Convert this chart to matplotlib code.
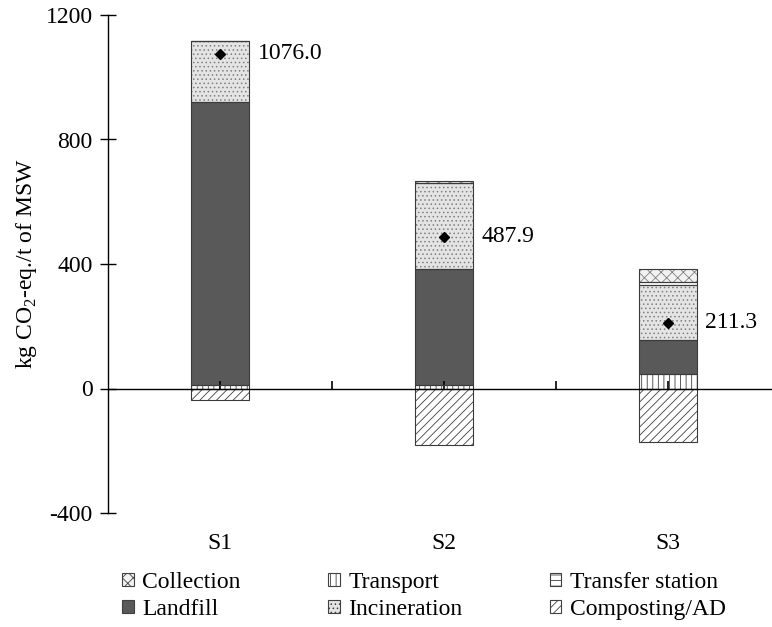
import matplotlib
matplotlib.use("Agg")
import matplotlib.pyplot as plt
from matplotlib.patches import Patch

# values (kg CO2-eq./t of MSW)
scenarios = ["S1", "S2", "S3"]
collection = [0, 8, 42]
transport = [12, 10, 45]
transfer = [0, 0, 9]
landfill = [907, 374, 110]
incineration = [197, 275, 178]
composting = [-38, -180, -173]
net = [1076.0, 487.9, 211.3]

plt.rcParams["font.family"] = ["Liberation Serif", "DejaVu Serif"]
plt.rcParams["hatch.linewidth"] = 0.6
plt.rcParams["mathtext.fontset"] = "custom"
plt.rcParams["mathtext.rm"] = "Liberation Serif"
plt.rcParams["axes.unicode_minus"] = False

fig = plt.figure(figsize=(7.72, 6.27), dpi=100)
ax = fig.add_axes([108 / 772, 114 / 627, 663 / 772, 498 / 627])

x = list(range(len(scenarios)))
w = 0.255
edge = "#3a3a3a"

styles = {
    "Collection": dict(facecolor="#f2f2f2", hatch="xxx", edgecolor="#808080"),
    "Transport": dict(facecolor="white", hatch="|||", edgecolor="#404040"),
    "Transfer station": dict(facecolor="white", hatch="---", edgecolor="#404040"),
    "Landfill": dict(facecolor="#595959", hatch=None, edgecolor=edge),
    "Incineration": dict(facecolor="#e4e4e4", hatch="....", edgecolor="#808080"),
    "Composting/AD": dict(facecolor="white", hatch="////", edgecolor="#404040"),
}

# positive stack, bottom to top as drawn in the figure
stack = [("Transport", transport), ("Landfill", landfill),
         ("Incineration", incineration), ("Transfer station", transfer),
         ("Collection", collection)]
bottom = [0.0] * len(x)
for name, vals in stack:
    ax.bar(x, vals, w, bottom=bottom, linewidth=0, zorder=2, **styles[name])
    ax.bar(x, vals, w, bottom=bottom, fill=False, edgecolor=edge, linewidth=0.8, zorder=3)
    bottom = [b + v for b, v in zip(bottom, vals)]

ax.bar(x, composting, w, linewidth=0, zorder=2, **styles["Composting/AD"])
ax.bar(x, composting, w, fill=False, edgecolor=edge, linewidth=0.8, zorder=3)

ax.plot(x, net, linestyle="none", marker="D", markersize=5.5, color="black", zorder=5)
for xi, v in zip(x, net):
    ax.text(xi + w / 2 + 0.04, v, f"{v:.1f}", fontsize=17, va="center", ha="left")

ax.set_axisbelow(False)
ax.set_xlim(-0.5, 2.46)
ax.set_ylim(-400, 1200)
ax.set_yticks([-400, 0, 400, 800, 1200])
ax.set_ylabel("kg CO$_2$-eq./t of MSW", fontsize=17, labelpad=5)
ax.tick_params(axis="y", direction="inout", length=12, width=1, labelsize=17, pad=5)

ax.spines["top"].set_visible(False)
ax.spines["right"].set_visible(False)
ax.spines["bottom"].set_position(("data", 0))
ax.spines["bottom"].set_zorder(4)
ax.spines["left"].set_linewidth(1)
ax.spines["bottom"].set_linewidth(1)
ax.set_xticks([0, 0.5, 1, 1.5, 2])
ax.set_xticklabels([])
ax.tick_params(axis="x", direction="in", length=6, width=1.2)

for xi, s in zip(x, scenarios):
    ax.text(xi, -0.062, s, transform=ax.get_xaxis_transform(), fontsize=17,
            ha="center", va="center")

order = ["Collection", "Landfill", "Transport", "Incineration",
         "Transfer station", "Composting/AD"]
handles = [Patch(label=n, linewidth=0.8, **{**styles[n], "edgecolor": "#404040"})
           for n in order]
fig.legend(handles=handles, loc="upper center", ncol=3, frameon=False,
           bbox_to_anchor=(424 / 772, 1 - 560 / 627), fontsize=17,
           handlelength=0.5, handleheight=0.5, handletextpad=0.35,
           columnspacing=3.7, labelspacing=0.25, borderpad=0)

fig.savefig("out.png", dpi=100)
